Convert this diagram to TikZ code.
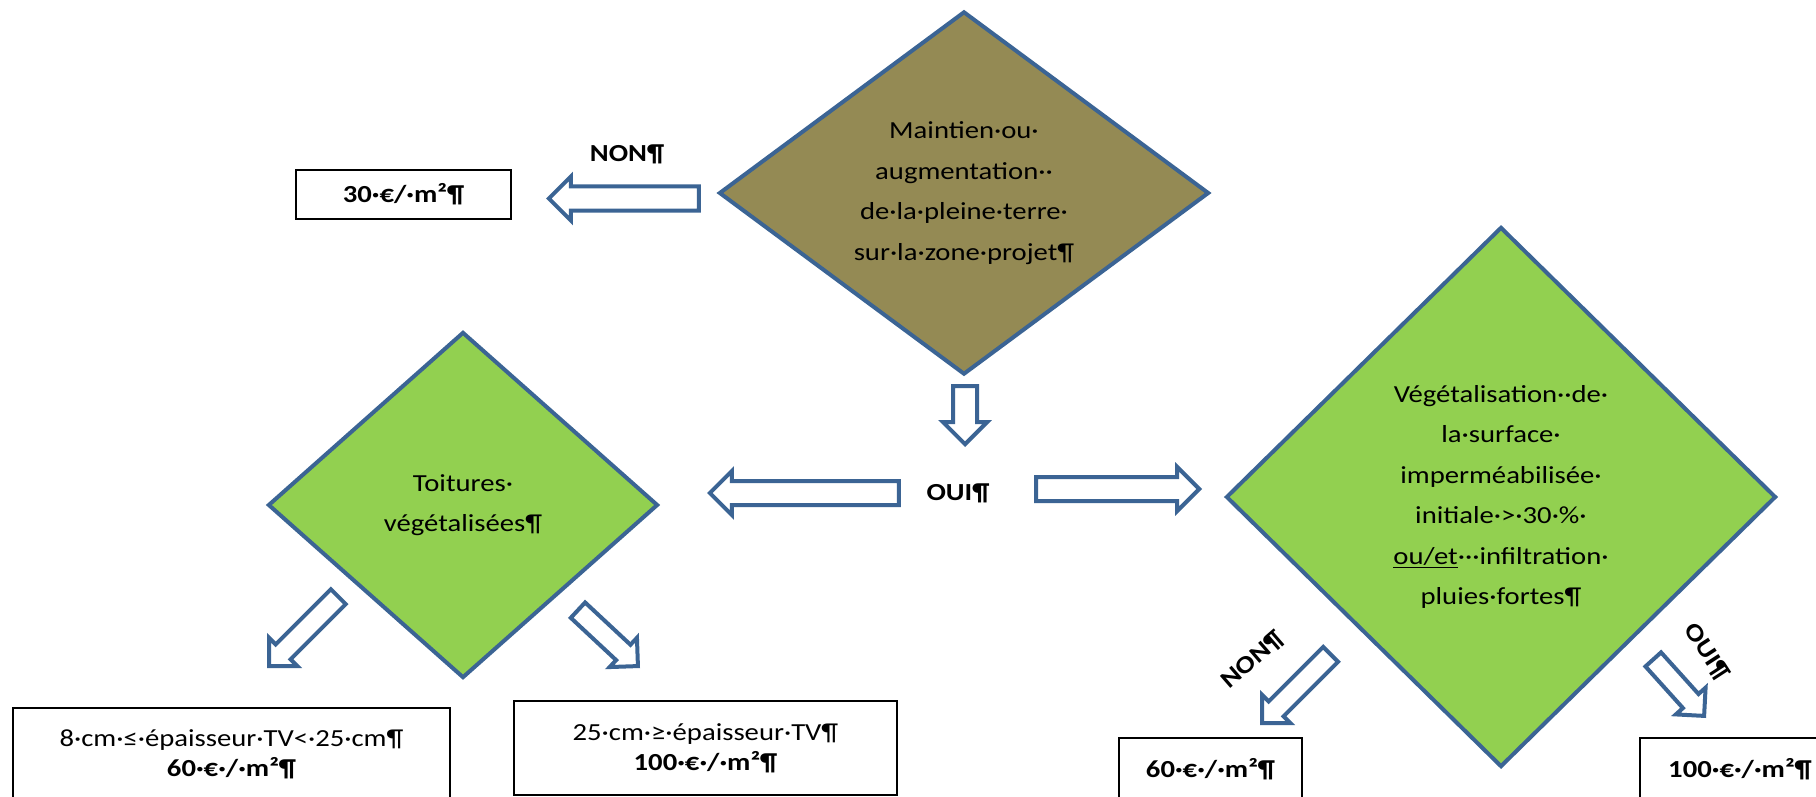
\documentclass[tikz,border=0pt]{standalone}
\usepackage{fontspec}
\setmainfont{Carlito}[FakeStretch=1.17]
\usetikzlibrary{shapes.geometric,shapes.arrows}
\definecolor{terre}{HTML}{948A54}
\definecolor{vert}{HTML}{92D050}
\definecolor{bord}{HTML}{3B6494}
\tikzset{
  question/.style = {
    diamond, draw=bord, line width=4pt, inner sep=0pt, align=center,
    font=\fontsize{24.5}{40.5}\selectfont
  },
  tarif/.style = {
    draw=black, line width=2.5pt, fill=white, align=center, inner sep=0pt,
    font=\fontsize{24.5}{30}\selectfont
  },
  fleche/.style = {
    single arrow, draw=bord, line width=4pt, fill=white, anchor=tip,
    inner xsep=0pt, inner ysep=10pt, single arrow head extend=10pt,
    minimum height=#1
  },
  petite/.style = {
    fleche=#1, inner ysep=8.5pt, single arrow head extend=9.5pt
  },
  reponse/.style = {
    inner sep=0pt, font=\bfseries\fontsize{24.5}{30}\selectfont
  }
}

\begin{document}
\begin{tikzpicture}[x=1pt,y=-1pt]
  \path[use as bounding box, fill=white] (0,0) rectangle (1816,797);
  % questions
  \node[question, fill=terre, minimum width=490pt, minimum height=360pt] (pleine) at (964,193)
    {Maintien·ou·\\augmentation··\\de·la·pleine·terre·\\sur·la·zone·projet¶};
  \node[question, fill=vert, minimum width=390pt, minimum height=346pt] (toitures) at (463,505)
    {Toitures·\\végétalisées¶};
  \node[question, fill=vert, minimum width=550pt, minimum height=540pt] (vegetal) at (1501,497)
    {Végétalisation··de·\\la·surface·\\imperméabilisée·\\initiale·>·30·\%·\\\underline{ou/et}···infiltration·\\pluies·fortes¶};
  % tarifs
  \node[tarif, minimum width=215pt, minimum height=49pt] (p30) at (403.5,194.5) {\textbf{30·€/·m²¶}};
  \node[tarif, minimum width=437pt, minimum height=92pt] (p60tv) at (231.5,754)
    {8·cm·≤·épaisseur·TV<·25·cm¶\\\textbf{60·€·/·m²¶}};
  \node[tarif, minimum width=383pt, minimum height=94pt] (p100tv) at (705.5,748)
    {25·cm·≥·épaisseur·TV¶\\\textbf{100·€·/·m²¶}};
  \node[tarif, minimum width=183pt, minimum height=62pt] (p60) at (1210.5,769) {\textbf{60·€·/·m²¶}};
  \node[tarif, minimum width=200pt, minimum height=62pt] (p100) at (1740,769) {\textbf{100·€·/·m²¶}};
  % reponses
  \node[reponse] (non1) at (627,154) {NON¶};
  \node[reponse] (oui1) at (958,493) {OUI¶};
  \node[reponse, rotate=41] (non2) at (1253,660) {NON¶};
  \node[reponse, rotate=-57] (oui2) at (1707,652) {OUI¶};
  % fleches
  \node[fleche=150pt, rotate=180] (f1) at (546,198.5) {};
  \node[fleche=58pt, rotate=-90] (f2) at (965,447) {};
  \node[fleche=189pt, rotate=180] (f3) at (707,493) {};
  \node[fleche=163pt] (f4) at (1202,489) {};
  \node[petite=98pt, rotate=225] (f5) at (267,668) {};
  \node[petite=82pt, rotate=-43] (f6) at (640,668) {};
  \node[petite=97pt, rotate=225] (f7) at (1260,725) {};
  \node[petite=76pt, rotate=-48] (f8) at (1706,718) {};
\end{tikzpicture}
\end{document}
